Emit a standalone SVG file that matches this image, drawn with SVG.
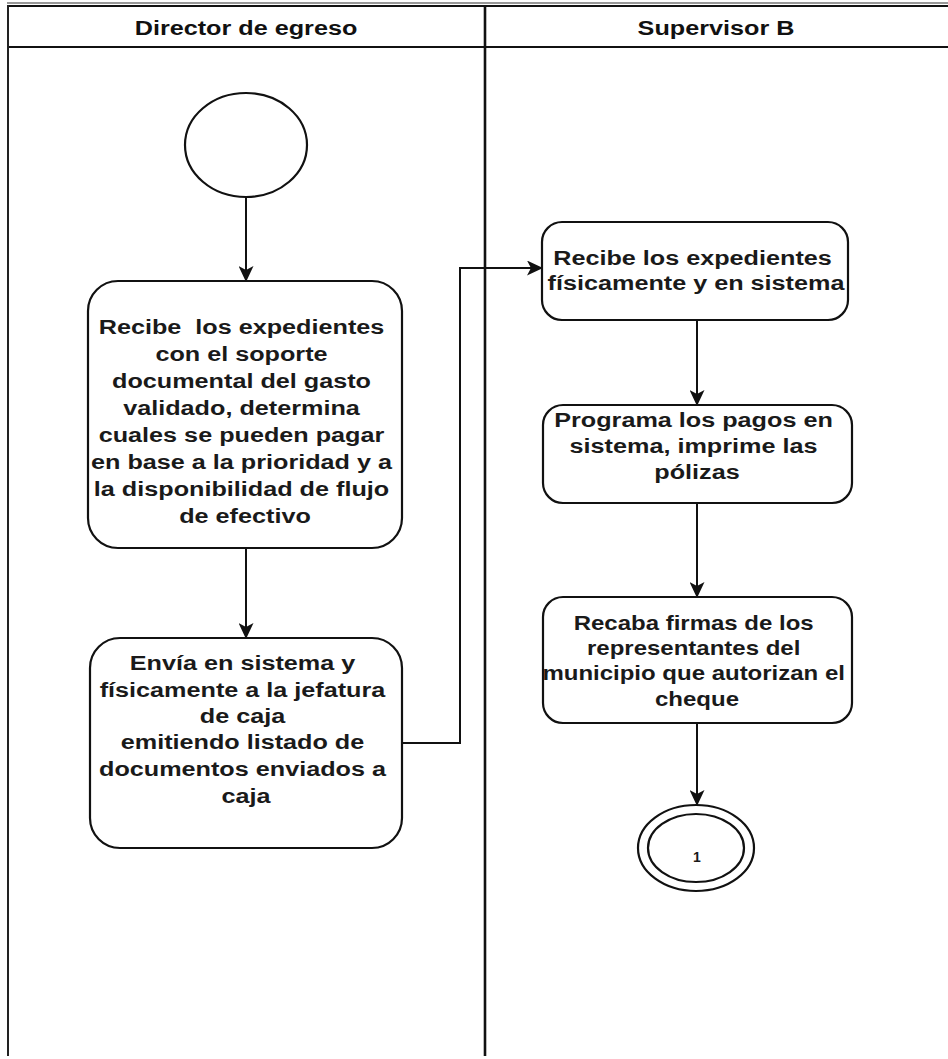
<svg xmlns="http://www.w3.org/2000/svg" width="948" height="1059" viewBox="0 0 948 1059">
<defs>
<style>
.ln{stroke:#111;stroke-width:2;fill:none}
.bx{stroke:#111;stroke-width:2.2;fill:#fff}
.t{font-family:"Liberation Sans",Arial,sans-serif;font-weight:bold;font-size:21px;fill:#1a1a1a;text-anchor:middle}
.t5{font-size:20px}
.h{font-family:"Liberation Sans",Arial,sans-serif;font-weight:bold;font-size:21px;fill:#111;text-anchor:middle}
</style>
<marker id="ah" markerWidth="16" markerHeight="15" refX="15" refY="7.5" orient="auto" markerUnits="userSpaceOnUse">
<path d="M0,0 L16,7.5 L0,15 L4,7.5 Z" fill="#111"/>
</marker>
</defs>
<rect width="948" height="1059" fill="#fff"/>
<g id="lanes">
<line x1="7" y1="3" x2="948" y2="3" stroke="#333" stroke-width="1.2"/>
<line x1="7" y1="6" x2="948" y2="6" stroke="#111" stroke-width="2"/>
<line x1="7" y1="47" x2="948" y2="47" stroke="#111" stroke-width="2"/>
<line x1="8" y1="5" x2="8" y2="1056" stroke="#222" stroke-width="2"/>
<line x1="485" y1="5" x2="485" y2="1056" stroke="#111" stroke-width="2.6"/>
<text class="h" transform="matrix(1.2 0 0 1 246 0)" x="0" y="35">Director de egreso</text>
<text class="h" transform="matrix(1.2 0 0 1 716 0)" x="0" y="35">Supervisor B</text>
</g>
<g id="connectors">
<line class="ln" x1="246" y1="196" x2="246" y2="281" marker-end="url(#ah)"/>
<line class="ln" x1="246" y1="548" x2="246" y2="638" marker-end="url(#ah)"/>
<polyline class="ln" points="402,743 460,743 460,268 542,268" marker-end="url(#ah)"/>
<line class="ln" x1="697" y1="320" x2="697" y2="405" marker-end="url(#ah)"/>
<line class="ln" x1="697" y1="503" x2="697" y2="597" marker-end="url(#ah)"/>
<line class="ln" x1="697" y1="723" x2="697" y2="805" marker-end="url(#ah)"/>
</g>
<g id="start">
<ellipse class="bx" cx="246" cy="145" rx="61" ry="52"/>
</g>
<g id="n1">
<rect class="bx" x="88" y="281" width="314" height="267" rx="30"/>
<text class="t" transform="matrix(1.2 0 0 1 245 0)">
<tspan x="0" y="334">Recibe&#160; los expedientes</tspan>
<tspan x="0" y="361">con el soporte</tspan>
<tspan x="0" y="388">documental del gasto</tspan>
<tspan x="0" y="415">validado, determina</tspan>
<tspan x="0" y="442">cuales se pueden pagar</tspan>
<tspan x="0" y="469">en base a la prioridad y a</tspan>
<tspan x="0" y="496">la disponibilidad de flujo</tspan>
<tspan x="0" y="523">de efectivo</tspan>
</text>
</g>
<g id="n2">
<rect class="bx" x="90" y="638" width="312" height="210" rx="30"/>
<text class="t" transform="matrix(1.2 0 0 1 246 0)">
<tspan x="0" y="670">Envía en sistema y</tspan>
<tspan x="0" y="697">físicamente a la jefatura</tspan>
<tspan x="0" y="723">de caja</tspan>
<tspan x="0" y="749">emitiendo listado de</tspan>
<tspan x="0" y="776">documentos enviados a</tspan>
<tspan x="0" y="803">caja</tspan>
</text>
</g>
<g id="n3">
<rect class="bx" x="542" y="222" width="306" height="98" rx="20"/>
<text class="t" transform="matrix(1.2 0 0 1 696 0)">
<tspan x="0" y="265">Recibe los expedientes</tspan>
<tspan x="0" y="290">físicamente y en sistema</tspan>
</text>
</g>
<g id="n4">
<rect class="bx" x="543" y="405" width="309" height="98" rx="20"/>
<text class="t" transform="matrix(1.2 0 0 1 697 0)">
<tspan x="0" y="427">Programa los pagos en</tspan>
<tspan x="0" y="453">sistema, imprime las</tspan>
<tspan x="0" y="479">pólizas</tspan>
</text>
</g>
<g id="n5">
<rect class="bx" x="543" y="597" width="309" height="126" rx="20"/>
<text class="t t5" transform="matrix(1.2 0 0 1 697 0)">
<tspan x="0" y="630">Recaba firmas de los</tspan>
<tspan x="0" y="655">representantes del</tspan>
<tspan x="0" y="680">municipio que autorizan el</tspan>
<tspan x="0" y="706">cheque</tspan>
</text>
</g>
<g id="end">
<ellipse class="bx" cx="696" cy="848" rx="58" ry="43"/>
<ellipse class="bx" cx="696" cy="848" rx="48" ry="34"/>
<text class="t" style="font-size:14px" x="697" y="862">1</text>
</g>
</svg>
